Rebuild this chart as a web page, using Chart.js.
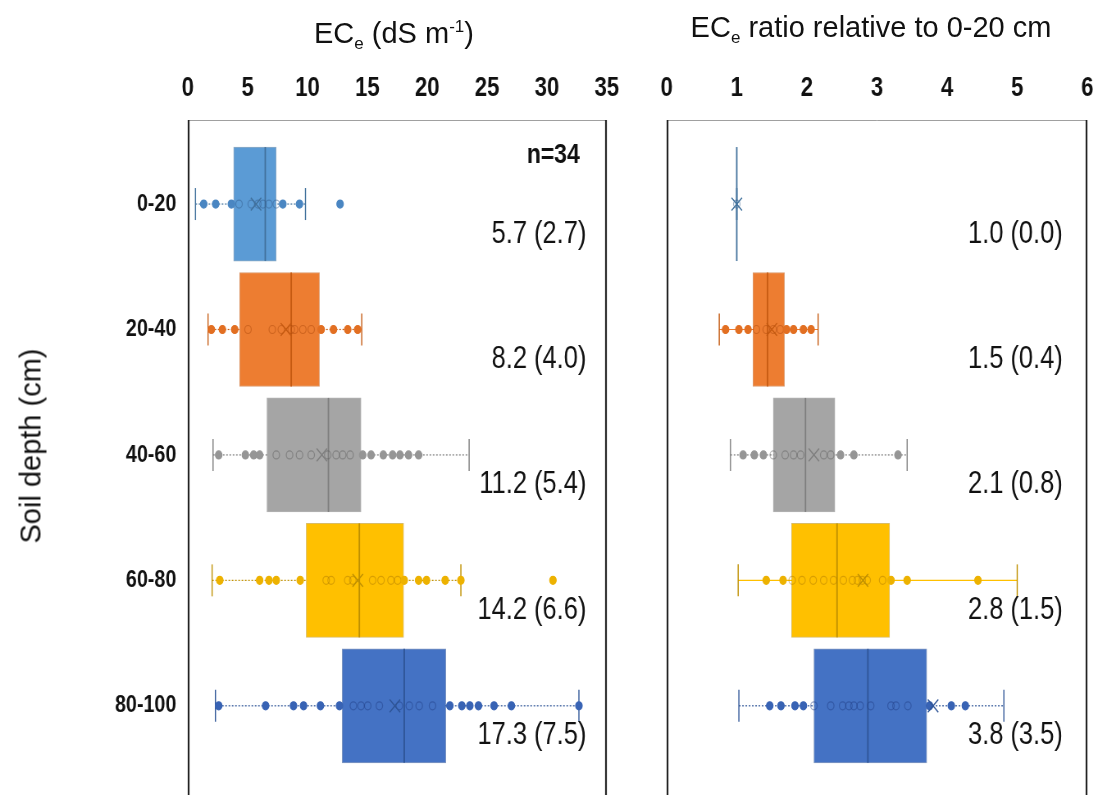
<!DOCTYPE html>
<html>
<head>
<meta charset="utf-8">
<script src="https://cdn.jsdelivr.net/npm/chart.js@4.4.1/dist/chart.umd.min.js"></script>
<style>
  html, body { margin: 0; padding: 0; background: #fff; }
  body { width: 1098px; height: 795px; overflow: hidden; position: relative; font-family: 'Liberation Sans', Arial, sans-serif; color: #111; }
  /* the plots are drawn wide and condensed horizontally */
  #plots { position: absolute; left: 0; top: 0; width: 1340px; height: 830px; transform: scaleX(0.82); transform-origin: 0 0; }
  #plots canvas { position: absolute; top: 0; }
  #ecChart { left: 0; }
  #ratioChart { left: 780px; }
  .hdr { position: absolute; font-size: 29px; white-space: nowrap; transform: translate(-50%, -50%); line-height: 1; }
  .hdr sub, .hdr sup { font-size: 17px; line-height: 0; }
  .ytitle { position: absolute; left: 31px; top: 446px; font-size: 29px; white-space: nowrap; transform: translate(-50%, -50%) rotate(-90deg); line-height: 1; }
</style>
</head>
<body>
<div id="plots">
  <canvas id="ecChart" width="780" height="830"></canvas>
  <canvas id="ratioChart" width="560" height="830"></canvas>
</div>
<div class="hdr" style="left: 394px; top: 33px;">EC<sub>e</sub> (dS m<sup>-1</sup>)</div>
<div class="hdr" style="left: 871px; top: 27px;">EC<sub>e</sub> ratio relative to 0-20 cm</div>
<div class="ytitle">Soil depth (cm)</div>
<script>
// soil depth classes (rows, top to bottom)
const depthLabels = ['0-20', '20-40', '40-60', '60-80', '80-100'];

// ECe (dS m-1) box statistics per depth
const ecTicks = [0, 5, 10, 15, 20, 25, 30, 35];
const ecMin = [0.64, 1.69, 2.11, 2.03, 2.31];
const ecQ1 = [3.83, 4.33, 6.61, 9.89, 12.89];
const ecMedian = [6.47, 8.64, 11.75, 14.33, 18.08];
const ecQ3 = [7.39, 11.0, 14.47, 18.03, 21.56];
const ecMax = [9.83, 14.53, 23.5, 22.81, 32.67];
const ecMean = [5.7, 8.2, 11.2, 14.2, 17.3];
const ecSd = [2.7, 4.0, 5.4, 6.6, 7.5];
const ecPoints = [
    [1.33, 2.33, 3.64, 4.28, 5.3, 5.86, 6.28, 6.78, 7.39, 7.94, 9.33, 12.72],
    [1.97, 2.89, 3.92, 5.03, 7.06, 7.81, 8.64, 8.92, 9.61, 10.31, 11.14, 12.17, 13.36, 14.19],
    [2.58, 4.81, 5.5, 6.0, 7.39, 8.5, 9.33, 10.31, 11.69, 12.39, 12.94, 13.56, 14.61, 15.31, 16.33, 17.11, 17.72, 18.44, 19.28],
    [2.67, 6.0, 6.78, 7.39, 9.39, 11.56, 11.97, 13.36, 13.78, 15.44, 16.14, 16.97, 17.53, 18.08, 19.28, 19.94, 21.5, 22.81, 30.5],
    [2.58, 6.5, 8.83, 9.67, 11.08, 12.67, 13.83, 14.47, 15.03, 16.0, 17.67, 18.5, 19.33, 20.44, 21.89, 22.89, 23.56, 24.28, 25.58, 27.03, 32.67]
];

// ECe ratio relative to the 0-20 cm layer
const ratioTicks = [0, 1, 2, 3, 4, 5, 6];
const ratioMin = [1.0, 0.75, 0.91, 1.02, 1.03];
const ratioQ1 = [1.0, 1.23, 1.52, 1.78, 2.10];
const ratioMedian = [1.0, 1.44, 1.98, 2.43, 2.87];
const ratioQ3 = [1.0, 1.68, 2.40, 3.18, 3.71];
const ratioMax = [1.0, 2.16, 3.43, 5.0, 4.81];
const ratioMean = [1.0, 1.5, 2.1, 2.8, 3.8];
const ratioSd = [0.0, 0.4, 0.8, 1.5, 3.5];
const ratioPoints = [
    [1.0],
    [0.84, 1.03, 1.16, 1.28, 1.42, 1.52, 1.62, 1.71, 1.81, 1.95, 2.06],
    [1.09, 1.25, 1.38, 1.52, 1.69, 1.81, 1.91, 2.24, 2.34, 2.48, 2.67, 3.30],
    [1.42, 1.66, 1.79, 1.93, 2.09, 2.24, 2.38, 2.52, 2.65, 2.72, 2.79, 2.86, 3.08, 3.20, 3.43, 4.44],
    [1.47, 1.63, 1.83, 1.95, 2.10, 2.34, 2.51, 2.60, 2.67, 2.76, 2.91, 3.20, 3.27, 3.44, 3.75, 4.06, 4.26]
];

const FILLS = ['#5B9BD5', '#ED7D31', '#A5A5A5', '#FFC000', '#4472C4'];
const DARKS = ['#41719C', '#C55A11', '#7F7F7F', '#BF9000', '#2F5597'];
const DOTS = ['#4A86C2', '#E26F22', '#959595', '#EDB200', '#3863B4'];
const RINGS = ['rgba(50,90,140,0.45)', 'rgba(170,70,10,0.45)', 'rgba(90,90,90,0.45)', 'rgba(170,120,0,0.45)', 'rgba(30,60,130,0.45)'];

const SANS = "'Liberation Sans', Arial, sans-serif";

const PLOT_TOP = 120;
const BOX_H = 114;

// frame and per-row summary labels
const panelDecor = {
    id: 'panelDecor',
    afterDatasetsDraw(chart, args, opts) {
        const { ctx, chartArea: a } = chart;
        const yScale = chart.scales.y;
        ctx.save();
        ctx.lineWidth = 1;
        ctx.strokeStyle = '#a0a0a0';
        ctx.beginPath();
        ctx.moveTo(a.left, a.top + 0.5);
        ctx.lineTo(a.right, a.top + 0.5);
        ctx.stroke();
        ctx.lineWidth = 2.2;
        ctx.strokeStyle = '#222';
        ctx.beginPath();
        ctx.moveTo(a.left + 1, a.top);
        ctx.lineTo(a.left + 1, a.bottom);
        ctx.moveTo(a.right - 1, a.top);
        ctx.lineTo(a.right - 1, a.bottom);
        ctx.stroke();

        ctx.fillStyle = '#111';
        ctx.textAlign = 'right';
        ctx.textBaseline = 'middle';
        ctx.font = '31px ' + SANS;
        opts.labels.forEach((t, i) => {
            ctx.fillText(t, a.right - opts.labelInset, yScale.getPixelForValue(i) + 30);
        });
        if (opts.note) {
            ctx.font = 'bold 28px ' + SANS;
            ctx.fillText(opts.note, a.right - 33, a.top + 35);
        }
        ctx.restore();
    }
};

function buildDatasets(stats, solidRows) {
    const row = (v, i) => ({ x: v, y: i });
    const sets = [];

    // whisker lines sit under the boxes
    stats.min.forEach((v, i) => {
        const solid = solidRows.includes(i);
        sets.push({
            type: 'line',
            data: [row(v, i), row(stats.max[i], i)],
            borderColor: solid ? FILLS[i] : DARKS[i],
            borderWidth: 1.2,
            borderDash: solid ? [] : [2, 2],
            pointRadius: 0,
            order: 7
        });
    });
    sets.push({
        type: 'scatter',
        data: stats.min.map(row).concat(stats.max.map(row)),
        pointStyle: 'line',
        rotation: 90,
        pointRadius: 16,
        pointBorderWidth: 1.4,
        pointBorderColor: ctx => DARKS[ctx.raw.y],
        order: 6
    });
    sets.push({
        type: 'bar',
        indexAxis: 'y',
        data: stats.q1.map((v, i) => ({ x: [v, stats.q3[i]], y: i })),
        backgroundColor: FILLS,
        borderColor: DARKS.map(c => c + '99'),
        borderWidth: 1,
        borderSkipped: false,
        barThickness: BOX_H,
        order: 5
    });
    sets.push({
        type: 'scatter',
        data: stats.median.map(row),
        pointStyle: 'line',
        rotation: 90,
        pointRadius: BOX_H / 2,
        pointBorderWidth: 1.8,
        pointBorderColor: DARKS,
        order: 4
    });
    stats.points.forEach((pts, i) => {
        const inside = v => v >= stats.q1[i] && v <= stats.q3[i];
        sets.push({
            type: 'scatter',
            data: pts.map(v => row(v, i)),
            pointRadius: 4,
            pointBorderWidth: 1.2,
            pointBackgroundColor: ctx => inside(ctx.raw.x) ? 'rgba(0,0,0,0)' : DOTS[i],
            pointBorderColor: ctx => inside(ctx.raw.x) ? RINGS[i] : DOTS[i],
            order: 2
        });
    });
    sets.push({
        type: 'scatter',
        data: stats.mean.map(row),
        pointStyle: 'crossRot',
        pointRadius: 9,
        pointBorderWidth: 1.4,
        pointBorderColor: DARKS,
        order: 1
    });
    return sets;
}

function makePanel(canvasId, stats, ticks, decor, pad, showDepth) {
    const ctx = document.getElementById(canvasId).getContext('2d');
    return new Chart(ctx, {
        type: 'scatter',
        data: { datasets: buildDatasets(stats, decor.solidWhiskers || []) },
        options: {
            responsive: false,
            animation: false,
            events: [],
            layout: { padding: pad, autoPadding: false },
            scales: {
                x: {
                    type: 'linear',
                    position: 'top',
                    offset: false,
                    min: ticks[0],
                    max: ticks[ticks.length - 1],
                    afterBuildTicks: s => { s.ticks = ticks.map(v => ({ value: v })); },
                    afterFit: s => { s.height = PLOT_TOP; s.paddingLeft = 0; s.paddingRight = 0; },
                    grid: { display: false, drawTicks: false },
                    border: { display: false },
                    ticks: {
                        padding: 15,
                        color: '#111',
                        font: { family: SANS, size: 27, weight: 'bold' }
                    }
                },
                y: {
                    type: 'linear',
                    reverse: true,
                    offset: false,
                    min: -0.67,
                    max: 4.99,
                    display: showDepth,
                    afterBuildTicks: s => { s.ticks = depthLabels.map((c, i) => ({ value: i })); },
                    afterFit: s => {
                        if (showDepth) s.width = pad.axisWidth;
                        s.paddingTop = 0;
                        s.paddingBottom = 0;
                    },
                    grid: { display: false, drawTicks: false },
                    border: { display: false },
                    ticks: {
                        padding: 14,
                        color: '#111',
                        font: { family: SANS, size: 24, weight: 'bold' },
                        callback: v => depthLabels[v]
                    }
                }
            },
            plugins: {
                legend: { display: false },
                tooltip: { enabled: false },
                panelDecor: decor
            }
        },
        plugins: [panelDecor]
    });
}

const summary = (means, sds) => means.map((m, i) => m.toFixed(1) + ' (' + sds[i].toFixed(1) + ')');

makePanel('ecChart', {
    min: ecMin, q1: ecQ1, median: ecMedian, q3: ecQ3, max: ecMax, mean: ecMean, points: ecPoints
}, ecTicks, {
    labels: summary(ecMean, ecSd),
    labelInset: 25,
    note: 'n=34'
}, { left: 0, right: 40, top: 0, bottom: 0, axisWidth: 229 }, true);

makePanel('ratioChart', {
    min: ratioMin, q1: ratioQ1, median: ratioMedian, q3: ratioQ3, max: ratioMax, mean: ratioMean, points: ratioPoints
}, ratioTicks, {
    labels: summary(ratioMean, ratioSd),
    labelInset: 30,
    solidWhiskers: [1, 3]
}, { left: 33, right: 14, top: 0, bottom: 0 }, false);
</script>
</body>
</html>
